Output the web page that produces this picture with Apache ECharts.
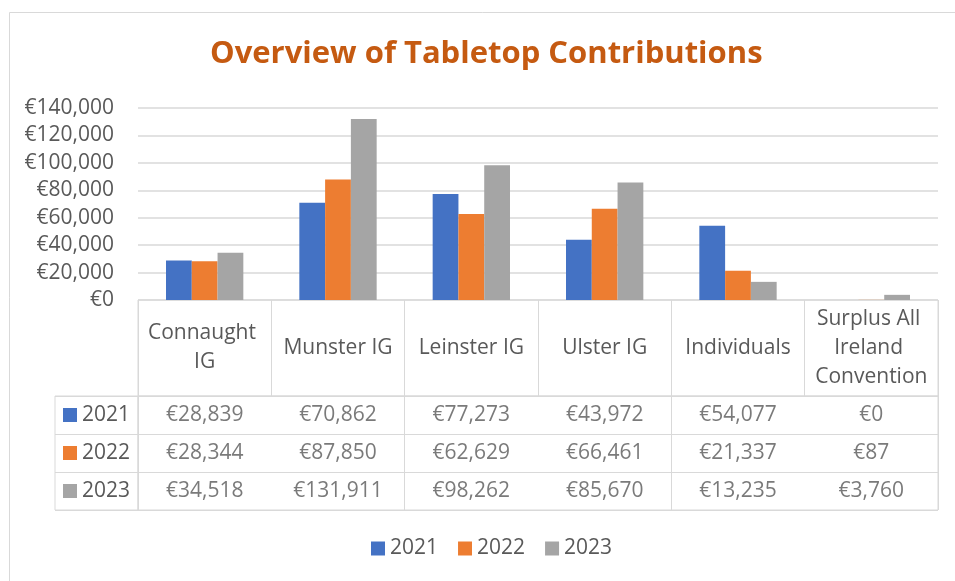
<!DOCTYPE html>
<html>
<head>
<meta charset="utf-8">
<script src="https://cdn.jsdelivr.net/npm/echarts@6/dist/echarts.min.js"></script>
<style>
  html, body { margin: 0; padding: 0; background: #fff; }
  #chart { width: 955px; height: 581px; }
</style>
</head>
<body>
<div id="chart"></div>
<script>
const categories = ['Connaught IG', 'Munster IG', 'Leinster IG', 'Ulster IG', 'Individuals', 'Surplus All Ireland Convention'];
const years = ['2021', '2022', '2023'];
const values2021 = [28839, 70862, 77273, 43972, 54077, 0];
const values2022 = [28344, 87850, 62629, 66461, 21337, 87];
const values2023 = [34518, 131911, 98262, 85670, 13235, 3760];
const colors = ['#4472C4', '#ED7D31', '#A5A5A5'];

const seriesValues = [values2021, values2022, values2023];
const euro = (v) => '€' + Number(v).toLocaleString('en-US');

const textColor = '#595959';
const lineColor = '#D9D9D9';
const font = 'Open Sans';

// cells of the data table: [column, row, value]
const tableCells = [];
seriesValues.forEach((vals, row) => {
  vals.forEach((v, col) => tableCells.push([col, row, v]));
});

const chart = echarts.init(document.getElementById('chart'));

chart.setOption({
  backgroundColor: '#fff',
  textStyle: { fontFamily: font },
  title: {
    text: 'Overview of Tabletop Contributions',
    left: 210,
    top: 39,
    padding: 0,
    textStyle: { color: '#C55A11', fontSize: 31, fontWeight: 'bold', fontFamily: font }
  },
  legend: {
    data: years,
    bottom: 17,
    left: 366,
    icon: 'rect',
    itemWidth: 14,
    itemHeight: 14,
    itemGap: 20,
    textStyle: { color: textColor, fontSize: 21, fontFamily: font }
  },
  graphic: [{
    type: 'rect',
    left: 7,
    top: 10,
    shape: { width: 2000, height: 2000 },
    style: { fill: 'none', stroke: lineColor, lineWidth: 1 },
    silent: true
  }],
  grid: [
    // bars
    { left: 138, right: 17, top: 108, height: 192 },
    // table header
    { left: 138, right: 17, top: 300, height: 96, show: true, borderColor: lineColor, borderWidth: 1 },
    // table values
    { left: 138, right: 17, top: 396, height: 114, show: true, borderColor: lineColor, borderWidth: 1 },
    // table year column
    { left: 55, width: 83, top: 396, height: 114, show: true, borderColor: lineColor, borderWidth: 1 }
  ],
  xAxis: [
    {
      gridIndex: 0, type: 'category', data: categories,
      axisLine: { show: false }, axisTick: { show: false }, axisLabel: { show: false }
    },
    {
      gridIndex: 1, type: 'category', data: categories, position: 'bottom',
      axisLine: { show: false }, axisTick: { show: false },
      splitLine: { show: true, lineStyle: { color: lineColor, width: 1 } },
      axisLabel: {
        interval: 0, margin: -48, verticalAlign: 'middle',
        width: 122, overflow: 'break', lineHeight: 29,
        color: textColor, fontSize: 21, fontFamily: font
      }
    },
    {
      gridIndex: 2, type: 'category', data: categories,
      axisLine: { show: false }, axisTick: { show: false }, axisLabel: { show: false },
      splitLine: { show: true, lineStyle: { color: lineColor, width: 1 } }
    },
    { gridIndex: 3, type: 'value', show: false }
  ],
  yAxis: [
    {
      gridIndex: 0, type: 'value', min: 0, max: 140000, interval: 20000,
      axisLine: { show: false }, axisTick: { show: false },
      axisLabel: { margin: 24, color: textColor, fontSize: 21, fontFamily: font, formatter: euro },
      splitLine: { lineStyle: { color: lineColor, width: 1.5 } }
    },
    { gridIndex: 1, type: 'value', show: false },
    {
      gridIndex: 2, type: 'category', data: years, inverse: true,
      axisLine: { show: false }, axisTick: { show: false }, axisLabel: { show: false },
      splitLine: { show: true, lineStyle: { color: lineColor, width: 1 } }
    },
    {
      gridIndex: 3, type: 'category', data: years, inverse: true,
      axisLine: { show: false }, axisTick: { show: false },
      splitLine: { show: true, lineStyle: { color: lineColor, width: 1 } },
      axisLabel: {
        inside: true, margin: 8,
        formatter: (v, i) => '{s' + i + '|}{t|' + v + '}',
        rich: {
          s0: { width: 14, height: 14, backgroundColor: colors[0] },
          s1: { width: 14, height: 14, backgroundColor: colors[1] },
          s2: { width: 14, height: 14, backgroundColor: colors[2] },
          t: { color: textColor, fontSize: 21, fontFamily: font, padding: [0, 0, 0, 5] }
        }
      }
    }
  ],
  series: [
    ...years.map((y, i) => ({
      name: y,
      type: 'bar',
      xAxisIndex: 0,
      yAxisIndex: 0,
      data: seriesValues[i],
      barGap: 0,
      barCategoryGap: '42%',
      itemStyle: { color: colors[i] },
      silent: true
    })),
    {
      name: 'table',
      type: 'scatter',
      xAxisIndex: 2,
      yAxisIndex: 2,
      data: tableCells,
      symbol: 'rect',
      symbolSize: 1,
      itemStyle: { color: 'rgba(0,0,0,0)' },
      silent: true,
      label: {
        show: true,
        position: 'inside',
        color: textColor,
        fontSize: 21,
        fontFamily: font,
        formatter: (p) => euro(p.value[2])
      }
    }
  ]
});
</script>
</body>
</html>
